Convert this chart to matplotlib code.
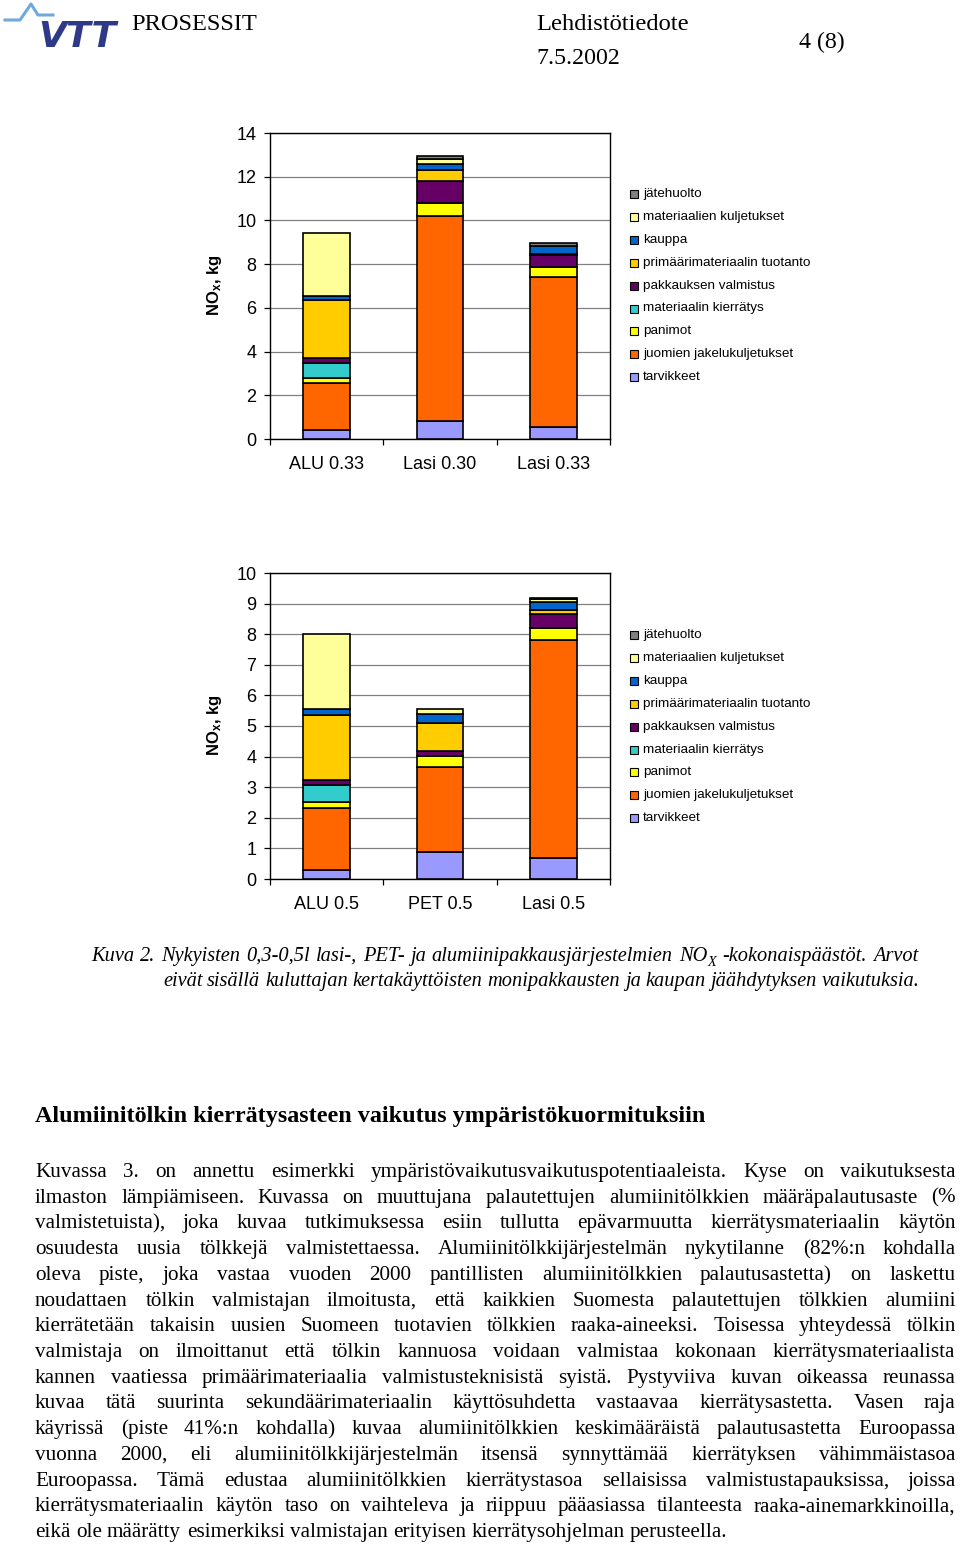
import matplotlib
matplotlib.use("Agg")
import matplotlib.pyplot as plt
import numpy as np
from matplotlib.patches import Rectangle
from matplotlib.lines import Line2D

# ---------------- data ----------------
series = ["tarvikkeet", "juomien jakelukuljetukset", "panimot", "materiaalin kierrätys",
          "pakkauksen valmistus", "primäärimateriaalin tuotanto", "kauppa",
          "materiaalien kuljetukset", "jätehuolto"]
colors = ["#9999FF", "#FF6600", "#FFFF00", "#33CCCC", "#660066", "#FFCC00", "#0066CC",
          "#FFFF99", "#808080"]

cats1 = ["ALU 0.33", "Lasi 0.30", "Lasi 0.33"]
tarvikkeet_1 = [0.40, 0.84, 0.56]
jakelu_1 = [2.17, 9.34, 6.84]
panimot_1 = [0.23, 0.61, 0.49]
kierratys_1 = [0.67, 0.00, 0.00]
pakkaus_1 = [0.24, 1.03, 0.51]
primaari_1 = [2.63, 0.47, 0.05]
kauppa_1 = [0.21, 0.31, 0.36]
kuljetus_1 = [2.86, 0.22, 0.00]
jate_1 = [0.00, 0.11, 0.15]
yticks1 = [0, 2, 4, 6, 8, 10, 12, 14]

cats2 = ["ALU 0.5", "PET 0.5", "Lasi 0.5"]
tarvikkeet_2 = [0.29, 0.87, 0.68]
jakelu_2 = [2.04, 2.80, 7.14]
panimot_2 = [0.20, 0.35, 0.38]
kierratys_2 = [0.53, 0.00, 0.00]
pakkaus_2 = [0.18, 0.17, 0.47]
primaari_2 = [2.13, 0.92, 0.13]
kauppa_2 = [0.20, 0.28, 0.25]
kuljetus_2 = [2.45, 0.18, 0.10]
jate_2 = [0.00, 0.00, 0.02]
yticks2 = [0, 1, 2, 3, 4, 5, 6, 7, 8, 9, 10]

header_left = "PROSESSIT"
header_mid1 = "Lehdistötiedote"
header_mid2 = "7.5.2002"
header_right = "4 (8)"

caption1 = "Kuva 2. Nykyisten 0,3-0,5l lasi-, PET- ja alumiinipakkausjärjestelmien NO\u0001 -kokonaispäästöt. Arvot"
caption2 = "eivät sisällä kuluttajan kertakäyttöisten monipakkausten ja kaupan jäähdytyksen vaikutuksia."

heading = "Alumiinitölkin kierrätysasteen vaikutus ympäristökuormituksiin"

para_lines = [
    "Kuvassa 3. on annettu esimerkki ympäristövaikutusvaikutuspotentiaaleista. Kyse on vaikutuksesta",
    "ilmaston lämpiämiseen. Kuvassa on muuttujana palautettujen alumiinitölkkien määräpalautusaste (%",
    "valmistetuista), joka kuvaa tutkimuksessa esiin tullutta epävarmuutta kierrätysmateriaalin käytön",
    "osuudesta uusia tölkkejä valmistettaessa. Alumiinitölkkijärjestelmän nykytilanne (82%:n kohdalla",
    "oleva piste, joka vastaa vuoden 2000 pantillisten alumiinitölkkien palautusastetta) on laskettu",
    "noudattaen tölkin valmistajan ilmoitusta, että kaikkien Suomesta palautettujen tölkkien alumiini",
    "kierrätetään takaisin uusien Suomeen tuotavien tölkkien raaka-aineeksi. Toisessa yhteydessä tölkin",
    "valmistaja on ilmoittanut että tölkin kannuosa voidaan valmistaa kokonaan kierrätysmateriaalista",
    "kannen vaatiessa primäärimateriaalia valmistusteknisistä syistä. Pystyviiva kuvan oikeassa reunassa",
    "kuvaa tätä suurinta sekundäärimateriaalin käyttösuhdetta vastaavaa kierrätysastetta. Vasen raja",
    "käyrissä (piste 41%:n kohdalla) kuvaa alumiinitölkkien keskimääräistä palautusastetta Euroopassa",
    "vuonna 2000, eli alumiinitölkkijärjestelmän itsensä synnyttämää kierrätyksen vähimmäistasoa",
    "Euroopassa. Tämä edustaa alumiinitölkkien kierrätystasoa sellaisissa valmistustapauksissa, joissa",
    "kierrätysmateriaalin käytön taso on vaihteleva ja riippuu pääasiassa tilanteesta raaka-ainemarkkinoilla,",
    "eikä ole määrätty esimerkiksi valmistajan erityisen kierrätysohjelman perusteella.",
]

# ---------------- setup ----------------
plt.rcParams["font.family"] = ["Liberation Sans", "DejaVu Sans"]
plt.rcParams["mathtext.fontset"] = "custom"
plt.rcParams["mathtext.rm"] = "Liberation Sans"
plt.rcParams["mathtext.bf"] = "Liberation Sans:bold"
plt.rcParams["mathtext.it"] = "Liberation Sans:italic"

W, H = 960, 1546
fig = plt.figure(figsize=(W / 100, H / 100), dpi=100)
fig.patch.set_facecolor("white")
renderer = fig.canvas.get_renderer()
SERIF = ["Liberation Serif", "DejaVu Serif"]


def fx(x):
    return x / W


def fy(y):
    return 1 - y / H


def width_of(s, size, **kw):
    t = fig.text(0, 0, s, fontsize=size, **kw)
    w = t.get_window_extent(renderer=renderer).width
    t.remove()
    return w


def fit_text(s, left, baseline, target_w, ref=16, **kw):
    size = ref * target_w / width_of(s, ref, **kw)
    fig.text(fx(left), fy(baseline), s, fontsize=size, ha="left", va="baseline", **kw)
    return size


# ---------------- charts ----------------
def draw_chart(top, cats, values, yticks, legend_top, ylab_y):
    left, right, bottom = 270, 610, top + 306
    ax = fig.add_axes([fx(left), fy(bottom), (right - left) / W, (bottom - top) / H])
    x = np.arange(len(cats))
    base = np.zeros(len(cats))
    for vals, col in zip(values, colors):
        v = np.asarray(vals, float)
        m = v > 0
        if m.any():
            ax.bar(x[m], v[m], width=0.41, bottom=base[m], color=col,
                   edgecolor="black", linewidth=1.2, zorder=3)
        base += v
    ax.set_xlim(-0.5, len(cats) - 0.5)
    ax.set_ylim(yticks[0], yticks[-1])
    ax.set_yticks(yticks)
    ax.set_yticklabels([str(t) for t in yticks])
    ax.yaxis.grid(True, color="#808080", linewidth=0.9)
    ax.set_axisbelow(True)
    ax.tick_params(axis="y", direction="out", length=4.3, width=0.9, pad=5.5,
                   labelsize=13)
    ax.set_xticks(np.arange(-0.5, len(cats), 1.0))
    ax.set_xticklabels([])
    ax.set_xticks(x, minor=True)
    ax.set_xticklabels(cats, minor=True)
    ax.tick_params(axis="x", which="major", direction="out", length=4.3, width=0.9)
    ax.tick_params(axis="x", which="minor", length=0, pad=12, labelsize=13)
    for s in ax.spines.values():
        s.set_color("black")
        s.set_linewidth(1.0)
    # y label
    fig.text(fx(215), fy(ylab_y), r"$\mathbf{NO_x}$, kg", rotation=90, fontsize=12,
             fontweight="bold", ha="center", va="center")
    # legend
    for i, idx in enumerate(reversed(range(len(series)))):
        yc = legend_top + i * 22.9
        fig.add_artist(Rectangle((fx(629.5), fy(yc + 4)), 8 / W, 8 / H,
                                 transform=fig.transFigure, facecolor=colors[idx],
                                 edgecolor="black", linewidth=0.8))
        fig.text(fx(643), fy(yc), series[idx], fontsize=9.7, ha="left", va="center")
    return ax


draw_chart(133, cats1,
           [tarvikkeet_1, jakelu_1, panimot_1, kierratys_1, pakkaus_1, primaari_1,
            kauppa_1, kuljetus_1, jate_1], yticks1, 194, 285)
draw_chart(573, cats2,
           [tarvikkeet_2, jakelu_2, panimot_2, kierratys_2, pakkaus_2, primaari_2,
            kauppa_2, kuljetus_2, jate_2], yticks2, 635, 725)

# ---------------- header ----------------
fig.add_artist(Line2D([fx(5), fx(20), fx(31), fx(38), fx(53)],
                      [fy(20), fy(20), fy(4), fy(15), fy(15)],
                      color="#6FA8DC", linewidth=2.2, transform=fig.transFigure))
fig.text(fx(38), fy(47), "VTT", fontsize=26, fontweight="bold", fontstyle="italic",
         color="#2E3A87", family=["DejaVu Sans"], ha="left", va="baseline")
fit_text(header_left, 131, 30, 126, family=SERIF)
fit_text(header_mid1, 536, 30, 152, family=SERIF)
fit_text(header_mid2, 536, 64, 84, family=SERIF)
fit_text(header_right, 799, 48, 46, family=SERIF)


# ---------------- justified text helper ----------------
def justify_line(words, left, right, baseline, size, justify=True, **kw):
    ref = 15.0
    scale = size / ref
    widths = []
    for w in words:
        if "\u0001" in w:
            a, b = w.split("\u0001")
            wa = width_of(a, ref, **kw) * scale
            wb = width_of("X", ref * 0.7, **kw) * scale
            widths.append(wa + wb + width_of(b, ref, **kw) * scale if b else wa + wb)
        else:
            widths.append(width_of(w, ref, **kw) * scale)
    sp = (width_of("a a", ref, **kw) - width_of("aa", ref, **kw)) * scale
    if justify and len(words) > 1:
        gap = (right - left - sum(widths)) / (len(words) - 1)
    else:
        gap = sp
    x = left
    for w, wd in zip(words, widths):
        if "\u0001" in w:
            a, b = w.split("\u0001")
            fig.text(fx(x), fy(baseline), a, fontsize=size, ha="left", va="baseline", **kw)
            wa = width_of(a, ref, **kw) * scale
            fig.text(fx(x + wa), fy(baseline + size * 0.32), "X", fontsize=size * 0.7,
                     ha="left", va="baseline", **kw)
        else:
            fig.text(fx(x), fy(baseline), w, fontsize=size, ha="left", va="baseline", **kw)
        x += wd + gap


def natural_size(lines, target, ref=15.0, squeeze=0.9, **kw):
    sizes = []
    sp = width_of("a a", ref, **kw) - width_of("aa", ref, **kw)
    for ln in lines:
        ws = ln.replace("\u0001", "X").split()
        nat = sum(width_of(w, ref, **kw) for w in ws) + (len(ws) - 1) * sp * squeeze
        sizes.append(ref * target / nat)
    return min(sizes)


# ---------------- caption ----------------
cap_kw = dict(family=SERIF, fontstyle="italic")
cap_size = min(natural_size([caption1], 918 - 91, **cap_kw),
               natural_size([caption2], 920 - 163, **cap_kw))
justify_line(caption1.split(" "), 91, 918, 961, cap_size, **cap_kw)
justify_line(caption2.split(" "), 163, 920, 986, cap_size, **cap_kw)

# ---------------- heading ----------------
fit_text(heading, 35, 1122, 673, ref=17, family=SERIF, fontweight="bold")

# ---------------- paragraph ----------------
par_kw = dict(family=SERIF)
PL, PR = 35, 956
psize = min(15.2, natural_size(para_lines[:-1], PR - PL, squeeze=0.8, **par_kw))
for i, ln in enumerate(para_lines):
    justify_line(ln.split(" "), PL, PR, 1177 + i * 25.72, psize,
                 justify=(i < len(para_lines) - 1), **par_kw)

fig.savefig("out.png", dpi=100, facecolor="white")
